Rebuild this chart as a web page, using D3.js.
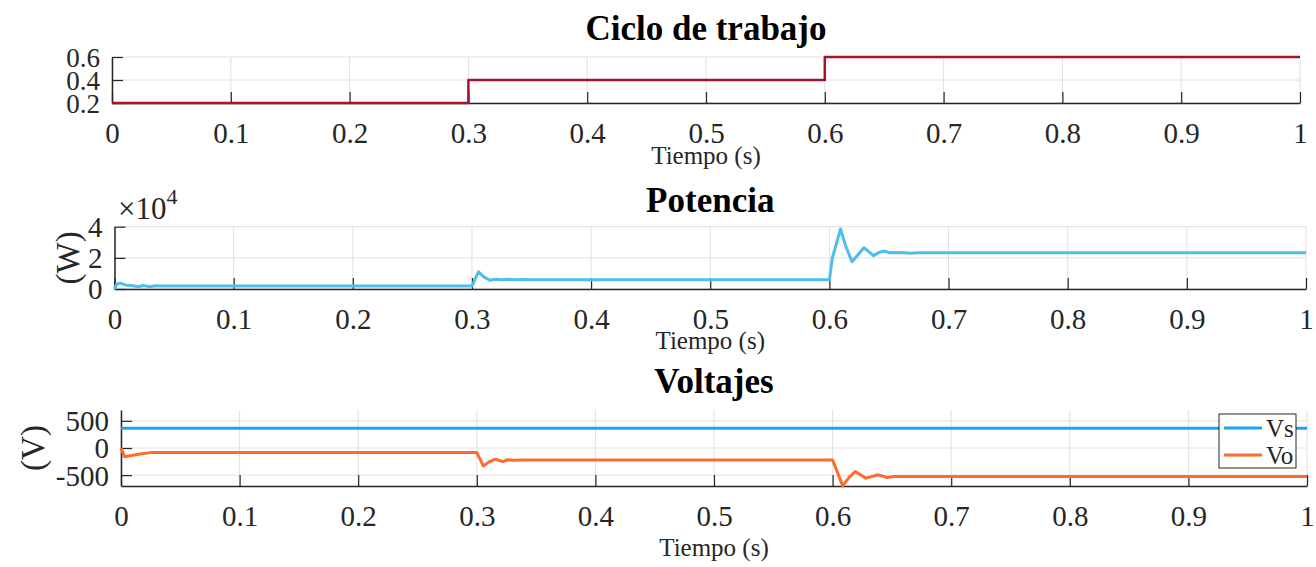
<!DOCTYPE html>
<html>
<head>
<meta charset="utf-8">
<script src="https://cdn.jsdelivr.net/npm/d3@7"></script>
<style>
  body { margin: 0; background: #fff; }
  svg { display: block; }
  svg text { font-family: "Liberation Serif", "Times New Roman", serif; }
</style>
</head>
<body>
<div id="chart"></div>
<script>
// time ticks shared by all three panels
var timeTicks = [0, 0.1, 0.2, 0.3, 0.4, 0.5, 0.6, 0.7, 0.8, 0.9, 1];

// Ciclo de trabajo
var dutyT = [0, 0.3, 0.3, 0.6, 0.6, 1];
var dutyV = [0.2, 0.2, 0.4, 0.4, 0.6, 0.6];

// Potencia (W)
var powT = [0, 0.002, 0.005, 0.009, 0.014, 0.02, 0.024, 0.03, 0.034, 0.04,
            0.3, 0.3055, 0.31, 0.315, 0.32, 0.325, 0.33, 0.335, 0.34, 0.35,
            0.6, 0.6025, 0.6093, 0.614, 0.619, 0.624, 0.629, 0.633, 0.637, 0.642, 0.646, 0.65, 0.66, 0.668, 0.675, 1];
var powV = [0, 3200, 3800, 2600, 2200, 1500, 2200, 1500, 2100, 2000,
            2000, 11000, 7800, 5600, 6200, 5900, 6300, 5900, 6100, 6000,
            6000, 20000, 38500, 27000, 17500, 22000, 26500, 24000, 21400, 23600, 24400, 23300, 23500, 23000, 23300, 23300];

// Voltajes (V)
var vsT = [0, 1];
var vsV = [365, 365];
var voT = [0, 0.003, 0.016, 0.025, 0.3, 0.3055, 0.31, 0.3155, 0.322, 0.326, 0.33, 0.34,
           0.6, 0.6085, 0.614, 0.619, 0.628, 0.6385, 0.646, 0.652, 1];
var voV = [0, -160, -110, -85, -85, -330, -260, -205, -250, -215, -225, -222,
           -222, -698, -540, -433, -555, -494, -544, -525, -525];

var W = 1316, H = 567;
var serif = "Liberation Serif, Times New Roman, serif";
var axisColor = "#262626", gridColor = "#e0e0e0";

var svg = d3.select("#chart").append("svg")
    .attr("width", W).attr("height", H)
    .attr("font-family", serif);

function zip(t, v) { return t.map(function(d, i) { return [d, v[i]]; }); }

function panel(cfg) {
  var x = d3.scaleLinear().domain([0, 1]).range([cfg.left, cfg.right]);
  var y = d3.scaleLinear().domain(cfg.yDomain).range([cfg.bottom, cfg.top]);
  var g = svg.append("g");

  // grid
  g.selectAll(".gx").data(timeTicks).enter().append("line")
    .attr("x1", function(d) { return x(d); }).attr("x2", function(d) { return x(d); })
    .attr("y1", cfg.top).attr("y2", cfg.bottom)
    .attr("stroke", gridColor).attr("stroke-width", 1);
  g.selectAll(".gy").data(cfg.yTicks).enter().append("line")
    .attr("x1", cfg.left).attr("x2", cfg.right)
    .attr("y1", function(d) { return y(d); }).attr("y2", function(d) { return y(d); })
    .attr("stroke", gridColor).attr("stroke-width", 1);

  // axes
  var xa = g.append("g")
    .attr("transform", "translate(0," + cfg.bottom + ")")
    .call(d3.axisBottom(x).tickValues(timeTicks).tickSizeInner(-11).tickSizeOuter(0)
      .tickFormat(function(d) { return d === 0 ? "0" : d === 1 ? "1" : d3.format(".1f")(d); }));
  xa.attr("font-family", serif);
  xa.selectAll("text").attr("y", 40).attr("dy", null)
    .style("font-size", "29px").attr("fill", axisColor);

  var ya = g.append("g")
    .attr("transform", "translate(" + cfg.left + ",0)")
    .call(d3.axisLeft(y).tickValues(cfg.yTicks).tickSizeInner(-11).tickSizeOuter(0)
      .tickFormat(cfg.yFormat));
  ya.attr("font-family", serif);
  ya.selectAll("text").attr("x", -12).attr("dy", "0.34em")
    .style("font-size", cfg.yFont + "px").attr("fill", axisColor);

  [xa, ya].forEach(function(a) {
    a.select(".domain").attr("stroke", axisColor).attr("stroke-width", 1.5);
    a.selectAll(".tick line").attr("stroke", axisColor).attr("stroke-width", 1.2);
  });

  // series
  var line = d3.line().x(function(d) { return x(d[0]); }).y(function(d) { return y(d[1]); });
  cfg.series.forEach(function(s) {
    g.append("path")
      .datum(zip(s.t, s.v))
      .attr("fill", "none")
      .attr("stroke", s.color)
      .attr("stroke-width", s.width)
      .attr("stroke-linejoin", "round")
      .attr("d", line);
  });

  // title
  svg.append("text")
    .attr("x", (cfg.left + cfg.right) / 2).attr("y", cfg.titleY)
    .attr("text-anchor", "middle")
    .style("font-size", "35px").style("font-weight", "bold")
    .text(cfg.title);

  // x label
  svg.append("text")
    .attr("x", (cfg.left + cfg.right) / 2).attr("y", cfg.bottom + cfg.xlabelOff)
    .attr("text-anchor", "middle")
    .style("font-size", "25px").attr("fill", axisColor)
    .text("Tiempo (s)");

  if (cfg.ylabel) {
    svg.append("text")
      .attr("transform", "translate(" + cfg.ylabelX + "," + (cfg.top + cfg.bottom) / 2 + ") rotate(-90)")
      .attr("text-anchor", "middle").attr("dy", "0.35em")
      .style("font-size", "33px").attr("fill", axisColor)
      .text(cfg.ylabel);
  }
  return {x: x, y: y, g: g};
}

panel({
  left: 112, right: 1300, top: 57, bottom: 103,
  yDomain: [0.2, 0.6], yTicks: [0.2, 0.4, 0.6], yFormat: d3.format(".1f"), yFont: 27,
  title: "Ciclo de trabajo", titleY: 40, xlabelOff: 61,
  series: [{t: dutyT, v: dutyV, color: "#A2142F", width: 2.5}]
});

panel({
  left: 114.5, right: 1306, top: 226.7, bottom: 289,
  yDomain: [0, 40000], yTicks: [0, 20000, 40000], yFormat: function(d) { return d / 10000; }, yFont: 29,
  title: "Potencia", titleY: 212, xlabelOff: 60,
  ylabel: "(W)", ylabelX: 67,
  series: [{t: powT, v: powV, color: "#4DBEEE", width: 3}]
});

// exponent label
var expo = svg.append("text").attr("x", 118).attr("y", 219)
  .style("font-size", "31px").attr("fill", axisColor);
expo.append("tspan").text("\u00d710");
expo.append("tspan").attr("dy", -15).style("font-size", "22px").text("4");

panel({
  left: 121, right: 1307, top: 410, bottom: 486,
  yDomain: [-700, 700], yTicks: [-500, 0, 500], yFormat: function(d) { return d; }, yFont: 29,
  title: "Voltajes", titleY: 393, xlabelOff: 70,
  ylabel: "(V)", ylabelX: 32,
  series: [
    {t: vsT, v: vsV, color: "#1FA2F2", width: 3},
    {t: voT, v: voV, color: "#FF6A2E", width: 3}
  ]
});

// legend
var legendItems = [{name: "Vs", color: "#1FA2F2"}, {name: "Vo", color: "#FF6A2E"}];
var lg = svg.append("g").attr("transform", "translate(1219,414)");
lg.append("rect").attr("width", 77).attr("height", 54)
  .attr("fill", "#fff").attr("stroke", axisColor).attr("stroke-width", 1);
legendItems.forEach(function(d, i) {
  var yy = 14 + i * 27;
  lg.append("line").attr("x1", 5).attr("x2", 43).attr("y1", yy).attr("y2", yy)
    .attr("stroke", d.color).attr("stroke-width", 3);
  lg.append("text").attr("x", 47).attr("y", yy).attr("dy", "0.35em")
    .style("font-size", "25px").attr("fill", axisColor).text(d.name);
});
</script>
</body>
</html>
